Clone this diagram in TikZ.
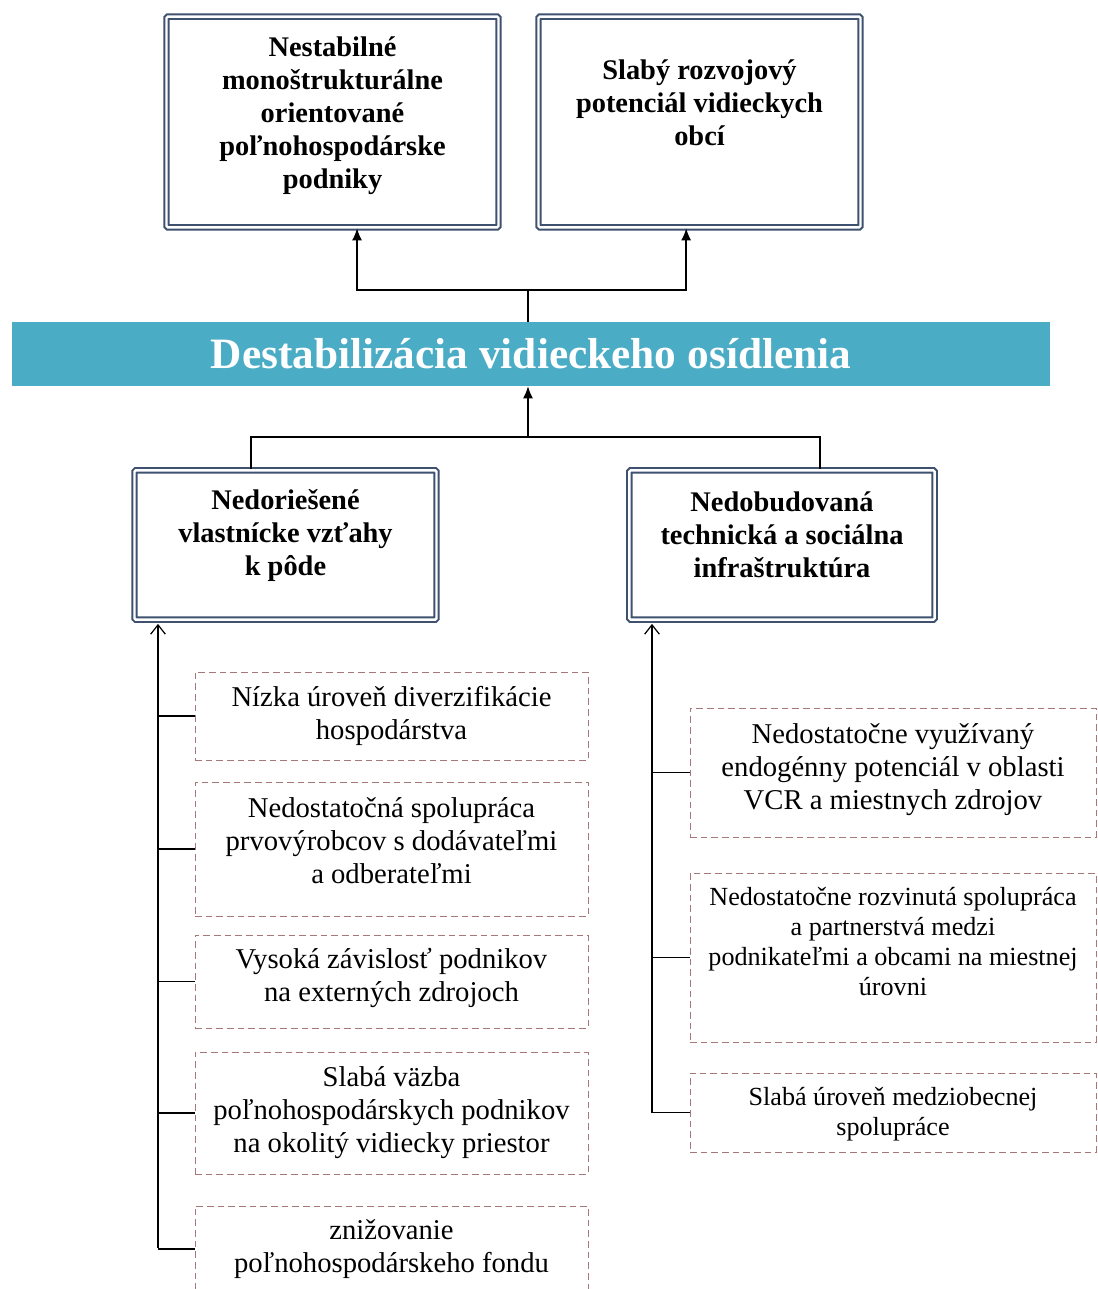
\documentclass[tikz,border=0pt]{standalone}
\usepackage{fontspec}
\setmainfont{Liberation Serif}
\usepackage{xcolor}
\usetikzlibrary{arrows.meta,positioning,calc}
\definecolor{frame}{RGB}{62,82,112}
\definecolor{aqua}{RGB}{75,172,198}
\definecolor{dashred}{RGB}{165,118,122}
\tikzset{
  mainbox/.style ={draw=frame,double=white,double distance=1.8pt,line width=1.5pt,rounded corners=1pt,
                   align=center,inner sep=4pt,font=\bfseries\fontsize{21.3}{24.75}\selectfont},
  cause/.style   ={draw=dashred,dash pattern=on 5pt off 3pt,line width=0.7pt,align=center,
                   inner sep=3pt,font=\fontsize{21.5}{24.75}\selectfont},
  causesm/.style ={cause,font=\fontsize{19.6}{22.5}\selectfont},
  banner/.style  ={fill=aqua,text=white,minimum width=778.5pt,minimum height=48pt,
                   font=\bfseries\fontsize{32.5}{38}\selectfont},
  lift/.style    ={text depth=#1}, % pushes the text up in its box
  link/.style    ={black,line width=1.1pt},
  uparrow/.style ={link,-{Latex[length=9pt,width=7.5pt]}},
  openarrow/.style={black,line width=0.9pt,-{Straight Barb[length=7pt,width=11pt]}},
}
\begin{document}
\begin{tikzpicture}[x=0.75pt,y=-0.75pt]
  \fill[white] (0,0) rectangle (1097,1289);
  \useasboundingbox (0,0) rectangle (1097,1289);
  % consequences
  \node[mainbox,minimum width=249pt,minimum height=158pt,lift=13.6pt] (nestab) at (332.5,122)
       {Nestabilné\\monoštrukturálne\\orientované\\poľnohospodárske\\podniky};
  \node[mainbox,minimum width=241.5pt,minimum height=158pt,lift=29pt] (slaby) at (699.5,122)
       {Slabý rozvojový\\potenciál vidieckych\\obcí};
  \node[banner] (dest) at (531,354) {Destabilizácia vidieckeho osídlenia};
  % causes
  \node[mainbox,minimum width=226.5pt,minimum height=112pt,lift=19.5pt] (nedor) at (285.5,545)
       {Nedoriešené\\vlastnícke vzťahy\\k pôde};
  \node[mainbox,minimum width=229pt,minimum height=112pt,lift=15pt] (nedob) at (782,545)
       {Nedobudovaná\\technická a sociálna\\infraštruktúra};

  \coordinate (topj) at (528,290);
  \coordinate (botj) at (528,437);
  \draw[link] (dest.north -| topj) -- (topj);
  \draw[uparrow] (topj) -| ([xshift=18.4pt]nestab.south);
  \draw[uparrow] (topj) -| ([xshift=-10pt]slaby.south);
  \draw[uparrow] (botj) -- (dest.south -| botj);
  \draw[link] ([xshift=-25.9pt]nedor.north) |- (botj) -| ([xshift=28.5pt]nedob.north);

  % left column
  \coordinate (lspine) at (158,1248);
  \foreach \n/\y/\h/\d/\t in {l1/716/66/4.7/{Nízka úroveň diverzifikácie\\hospodárstva},
      l2/849/100.5/12/{Nedostatočná spolupráca\\prvovýrobcov s dodávateľmi\\a odberateľmi},
      l3/981.5/69.75/10.7/{Vysoká závislosť podnikov\\na externých zdrojoch},
      l4/1113/91.5/4.7/{Slabá väzba\\poľnohospodárskych podnikov\\na okolitý vidiecky priestor},
      l5/1249/64.5/4.7/{znižovanie\\poľnohospodárskeho fondu}}{
     \node[cause,minimum width=294.75pt,minimum height=\h pt,lift=\d pt] (\n) at (391.5,\y) {\t};
     \draw[link] (lspine |- \n.west) -- (\n.west);
  }
  \draw[openarrow] (lspine) -- ([yshift=-2.4pt]lspine |- nedor.south);

  % right column
  \coordinate (rspine) at (652,1113);
  \foreach \n/\y/\h/\d/\s/\t in {r1/772.5/96.75/9.2/cause/{Nedostatočne využívaný\\endogénny potenciál v oblasti\\VCR a miestnych zdrojov},
      r2/957.5/126.75/24/causesm/{Nedostatočne rozvinutá spolupráca\\a partnerstvá medzi\\podnikateľmi a obcami na miestnej\\úrovni},
      r3/1112.5/59.25/2/causesm/{Slabá úroveň medziobecnej\\spolupráce}}{
     \node[\s,minimum width=304.5pt,minimum height=\h pt,lift=\d pt] (\n) at (893,\y) {\t};
     \draw[link] (rspine |- \n.west) -- (\n.west);
  }
  \draw[openarrow] (rspine) -- ([yshift=-2.4pt]rspine |- nedob.south);
\end{tikzpicture}
\end{document}
